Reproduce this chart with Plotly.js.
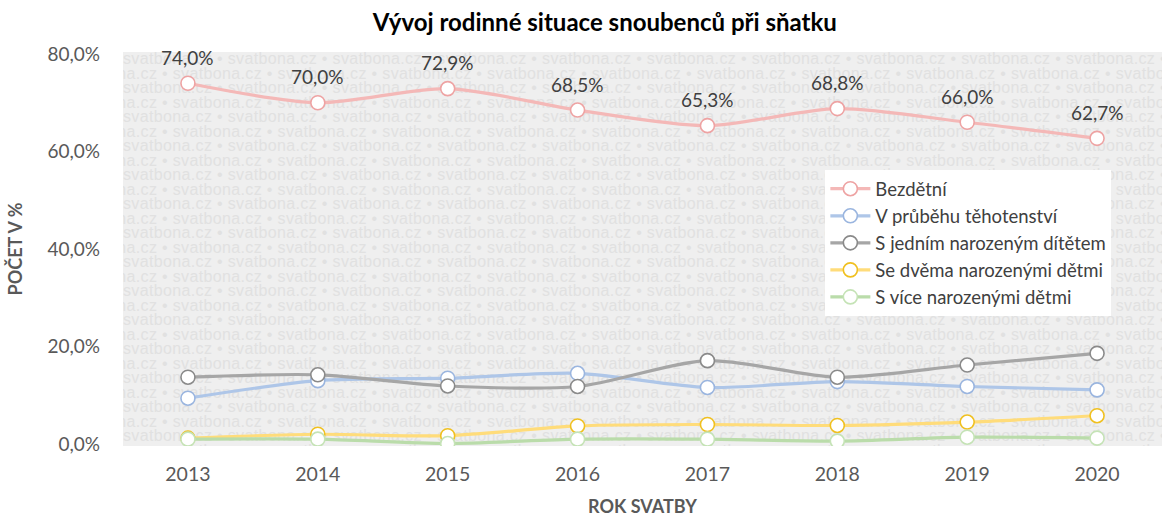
<!DOCTYPE html>
<html>
<head>
<meta charset="utf-8">
<script src="https://cdn.plot.ly/plotly-3.0.1.min.js"></script>
<style>
  html, body { margin: 0; padding: 0; background: #ffffff; }
  #wrap { position: relative; width: 1163px; height: 517px; }
  #wm {
    position: absolute; left: 123px; top: 52px; width: 1039px; height: 394px;
    background: #efefef; overflow: hidden; z-index: 0;
    font-family: "Liberation Sans", Arial, sans-serif; font-size: 16px;
    line-height: 14.5px; color: #e1e1e1; white-space: nowrap; letter-spacing: 0.35px;
  }
  #wm div { height: 14.5px; }
  #chart { position: absolute; left: 0; top: 0; width: 1163px; height: 517px; z-index: 1; }
</style>
</head>
<body>
<div id="wrap">
  <div id="wm"></div>
  <div id="chart"></div>
</div>
<script>
// ---- data ----
const years = ["2013", "2014", "2015", "2016", "2017", "2018", "2019", "2020"];
const seriesNames = [
  "Bezdětní",
  "V průběhu těhotenství",
  "S jedním narozeným dítětem",
  "Se dvěma narozenými dětmi",
  "S více narozenými dětmi"
];
const bezdetni     = [74.0, 70.0, 72.9, 68.5, 65.3, 68.8, 66.0, 62.7];
const tehotenstvi  = [9.4, 13.0, 13.5, 14.5, 11.6, 12.8, 11.8, 11.1];
const jednoDite    = [13.7, 14.2, 11.9, 11.8, 17.1, 13.7, 16.2, 18.6];
const dveDeti      = [1.2, 2.0, 1.7, 3.7, 4.0, 3.8, 4.5, 5.8];
const viceDeti     = [1.0, 1.0, 0.1, 1.0, 1.0, 0.6, 1.4, 1.2];
const yTicks = [0, 20, 40, 60, 80];
const watermarkWord = "svatbona.cz";

// ---- watermark (real text, behind the plot) ----
const wm = document.getElementById('wm');
const unit = watermarkWord + " \u2022 ";
const rowText = unit.repeat(14);
for (let r = 0; r < 28; r++) {
  const d = document.createElement('div');
  d.textContent = rowText;
  d.style.marginLeft = (r % 2 === 0 ? 0 : -55) + 'px';
  wm.appendChild(d);
}

// ---- styles ----
const FONT = 'Lato, "Open Sans", sans-serif';
const styles = [
  { line: '#f4b8b7', border: '#eea3a3' },
  { line: '#aec6e8', border: '#9ab5df' },
  { line: '#a6a6a6', border: '#8a8a8a' },
  { line: '#ffdc7a', border: '#f0c020' },
  { line: '#badcaa', border: '#c5e3b6' }
];
const allValues = [bezdetni, tehotenstvi, jednoDite, dveDeti, viceDeti];

const traces = allValues.map((vals, i) => ({
  type: 'scatter',
  mode: 'lines+markers',
  name: seriesNames[i],
  x: years,
  y: vals,
  line: { color: styles[i].line, width: 3.2, shape: 'spline', smoothing: 0.8 },
  marker: { symbol: 'circle', size: 14, color: '#ffffff', line: { color: styles[i].border, width: 1.6 } },
  hoverinfo: 'x+y'
}));

const fmt = v => v.toFixed(1).replace('.', ',') + '%';
const annotations = years.map((yr, i) => ({
  x: i, y: bezdetni[i], xref: 'x', yref: 'y',
  text: fmt(bezdetni[i]), showarrow: false, yshift: 26,
  font: { family: FONT, size: 19, color: '#404040' }
}));

const layout = {
  width: 1163, height: 517,
  margin: { l: 123, r: 1, t: 52, b: 71 },
  paper_bgcolor: 'rgba(0,0,0,0)',
  plot_bgcolor: 'rgba(0,0,0,0)',
  separators: ', ',
  title: {
    text: 'Vývoj rodinné situace snoubenců při sňatku',
    font: { family: FONT, size: 24, color: '#000000', weight: 'bold' },
    x: 0.52, xanchor: 'center', y: 0.957, yanchor: 'middle'
  },
  xaxis: {
    type: 'category',
    range: [-0.5, 7.5],
    showgrid: false, zeroline: false, showline: false,
    ticks: '', ticklabelstandoff: 14,
    tickfont: { family: FONT, size: 19.5, color: '#595959' },
    title: {
      text: 'ROK SVATBY', standoff: 16,
      font: { family: FONT, size: 18, color: '#595959', weight: 'bold' }
    }
  },
  yaxis: {
    range: [-0.41, 80.41],
    tickvals: yTicks,
    ticktext: yTicks.map(fmt),
    showgrid: false, zeroline: false, showline: false,
    ticks: '', ticklabelstandoff: 22,
    tickfont: { family: FONT, size: 19, color: '#595959' },
    title: {
      text: 'POČET V %', standoff: 20,
      font: { family: FONT, size: 18, color: '#595959', weight: 'bold' }
    }
  },
  showlegend: true,
  legend: {
    x: 0.676, y: 0.70, xanchor: 'left', yanchor: 'top',
    bgcolor: '#ffffff', borderwidth: 0,
    font: { family: FONT, size: 18.5, color: '#404040' },
    tracegroupgap: 0, itemwidth: 40
  },
  annotations: annotations
};

Plotly.newPlot('chart', traces, layout, { displayModeBar: false, responsive: false });
</script>
</body>
</html>
